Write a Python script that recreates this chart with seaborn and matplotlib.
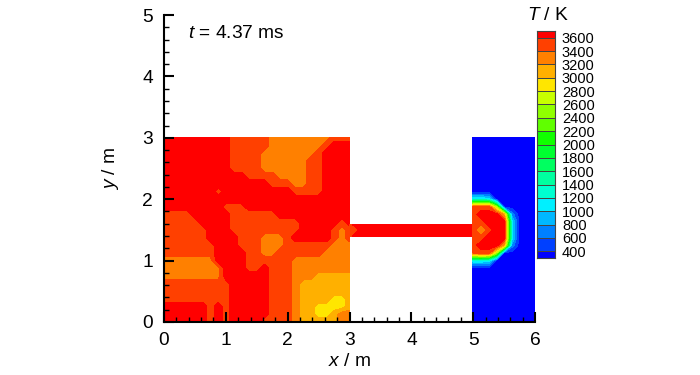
import numpy as np
import matplotlib
matplotlib.use("Agg")
import matplotlib.pyplot as plt
from matplotlib.colors import ListedColormap, BoundaryNorm
from matplotlib.ticker import MultipleLocator
import seaborn as sns

sns.set_style("ticks")
plt.rcParams.update({
    "font.family": "Liberation Sans",
    "mathtext.fontset": "custom",
    "mathtext.rm": "Liberation Sans",
    "mathtext.it": "Liberation Sans:italic",
    "axes.linewidth": 1.5,
    "axes.edgecolor": "black",
    "xtick.color": "black",
    "ytick.color": "black",
    "text.color": "black",
    "axes.labelcolor": "black",
})

# Colour bar: band boundaries (K) and the colours of the bands, top to bottom
tick_labels = [3600, 3400, 3200, 3000, 2800, 2600, 2400, 2200, 2000,
               1800, 1600, 1400, 1200, 1000, 800, 600, 400]
band_colors = ["#ff0000", "#ff4000", "#ff8000", "#ffb000", "#ffe600", "#c8ff00",
               "#90ff00", "#60ff00", "#10ff00", "#00ff30", "#00ff60", "#00ffa0",
               "#00ffd0", "#00f0ff", "#00b8ff", "#0080ff", "#0040ff", "#0000ff"]

# Left chamber, x 0-3, y 3-0, band index read at each grid node (0 = hottest band)
left_room = [
    "0000000001111122222222111",
    "0000000001111122222221000",
    "0000000001111222222210000",
    "0000000001111222222110000",
    "0000000001111222222110000",
    "0000000000011112222110000",
    "0000000000000011122110000",
    "0000000100000000011110000",
    "0000000000000000000000000",
    "0000000011100000000000000",
    "1111000001111110000000000",
    "1111100001111111110000010",
    "1111110001111111110000121",
    "1111110000111222100000121",
    "1111111000111222111111222",
    "1111111000011221111112222",
    "2222222000011111122222222",
    "2222222200011011122222222",
    "2222222200000011122233333",
    "1111111110000011123333333",
    "1111111110000011123333333",
    "1111111110000011123333443",
    "0000001010000011123344443",
    "0000001010000011123344322",
    "0000001010000111123333322",
]
left_x = np.linspace(0, 3, 25)
left_y = np.linspace(3, 0, 25)

# Connecting duct, x 3-5, temperature (K) along its length
duct_x = [3.0, 3.1, 3.2, 3.5, 4.0, 4.5, 5.0]
duct_y = [1.39, 1.5, 1.59]
duct_T = [[3500, 3700, 3700, 3700, 3700, 3700, 3700],
          [3500, 3500, 3700, 3700, 3700, 3700, 3700],
          [3500, 3700, 3700, 3700, 3700, 3700, 3700]]

# Right chamber, x 5-6, temperature (K) at the grid nodes
right_x = [5.0, 5.125, 5.25, 5.375, 5.5, 5.625, 5.75, 5.875, 6.0]
right_y = [3.0, 2.125, 2.0, 1.875, 1.75, 1.625, 1.5, 1.375, 1.25, 1.125, 1.0, 0.875, 0.0]
right_T = [
    [300, 300, 300, 300, 300, 300, 300, 300, 300],
    [300, 300, 300, 300, 300, 300, 300, 300, 300],
    [1150, 1150, 1050, 300, 300, 300, 300, 300, 300],
    [3400, 3500, 3500, 2500, 300, 300, 300, 300, 300],
    [3500, 3700, 3700, 3700, 3100, 700, 300, 300, 300],
    [3500, 3500, 3700, 3700, 3700, 1100, 300, 300, 300],
    [3500, 3100, 3500, 3700, 3700, 1100, 300, 300, 300],
    [3500, 3500, 3700, 3700, 3700, 1100, 300, 300, 300],
    [3500, 3700, 3700, 3700, 3100, 700, 300, 300, 300],
    [3400, 3500, 3500, 2500, 300, 300, 300, 300, 300],
    [1150, 1150, 1050, 300, 300, 300, 300, 300, 300],
    [300, 300, 300, 300, 300, 300, 300, 300, 300],
    [300, 300, 300, 300, 300, 300, 300, 300, 300],
]

left_T = np.array([[3700 - 200 * int(c) for c in row] for row in left_room])

rev_colors = band_colors[::-1]
bounds = [0] + tick_labels[::-1] + [4000]
cmap = ListedColormap(rev_colors)
norm = BoundaryNorm(bounds, cmap.N)

fig = plt.figure(figsize=(7, 3.75), dpi=100)
W, H = 700, 375
ax = fig.add_axes([164 / W, 1 - 322 / H, (535 - 164) / W, (322 - 15) / H])

for X, Y, Z in [(left_x, left_y, left_T), (duct_x, duct_y, duct_T), (right_x, right_y, right_T)]:
    cs = ax.contourf(X, Y, np.asarray(Z), levels=bounds, cmap=cmap, norm=norm)
    cs.set_edgecolor("face")
    cs.set_linewidth(0.3)

ax.set_xlim(0, 6)
ax.set_ylim(0, 5)
sns.despine(ax=ax)
ax.xaxis.set_major_locator(MultipleLocator(1))
ax.yaxis.set_major_locator(MultipleLocator(1))
ax.xaxis.set_minor_locator(MultipleLocator(0.2))
ax.yaxis.set_minor_locator(MultipleLocator(0.2))
ax.tick_params(axis="x", which="major", direction="in", length=7, width=1.5, labelsize=13.8, pad=7)
ax.tick_params(axis="y", which="major", direction="in", length=7, width=1.5, labelsize=13.8, pad=8)
ax.tick_params(which="minor", direction="in", length=3.5, width=1.0)
ax.set_axisbelow(False)
ax.set_xlabel(r"$\mathit{x}$ / m", fontsize=13.8, labelpad=3)
ax.set_ylabel(r"$\mathit{y}$ / m", fontsize=13.8, labelpad=15)
ax.text(0.39, 4.7, r"$\mathit{t}$ = 4.37 ms", fontsize=13.8, va="center", ha="left")

# Colour bar
cax = fig.add_axes([537 / W, 1 - 258 / H, 18 / W, 227 / H])
bar_values = np.arange(len(band_colors))[:, None]
sns.heatmap(bar_values, ax=cax, cmap=ListedColormap(band_colors), cbar=False,
            linewidths=0.5, linecolor="#444444", xticklabels=False, yticklabels=False)
cax.set_ylim(17.5, 0.5)
cax.set_yticks(np.arange(1, len(tick_labels) + 1))
cax.set_yticklabels(tick_labels, fontsize=10.5)
cax.yaxis.tick_right()
cax.tick_params(axis="y", length=0, pad=5, labelrotation=0)
for s in cax.spines.values():
    s.set_visible(True)
    s.set_linewidth(0.8)
    s.set_color("#444444")
fig.text(548 / W, 1 - 16 / H, r"$\mathit{T}$ / K", fontsize=13.8, ha="center", va="center")

fig.savefig("out.png", dpi=100, facecolor="white")
